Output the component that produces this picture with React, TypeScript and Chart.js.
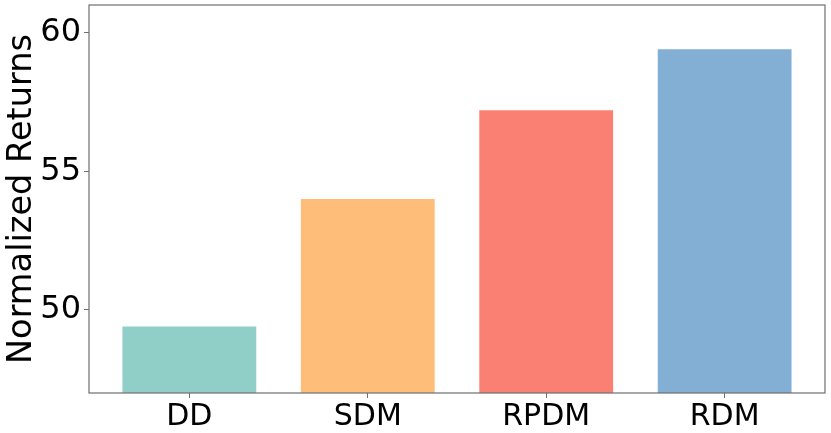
import React, { useEffect, useRef } from "react";
import { Chart, registerables } from "chart.js";

Chart.register(...registerables);

const categories: string[] = ["DD", "SDM", "RPDM", "RDM"];
const values: number[] = [49.4, 54.0, 57.2, 59.4];
const colors: string[] = ["#8fcfc8", "#febe7a", "#f98072", "#82afd3"];
const yTicks: number[] = [50, 55, 60];
const yMin = 47;
const yMax = 61;
const xMin = -0.5625;
const xMax = 3.5625;

const FONT = "'DejaVu Sans', sans-serif";

const framePlugin = {
  id: "frame",
  afterDatasetsDraw(chart: any) {
    const { ctx, chartArea } = chart;
    ctx.save();
    ctx.strokeStyle = "#6f6f6f";
    ctx.lineWidth = 1.2;
    ctx.strokeRect(chartArea.left, chartArea.top, chartArea.right - chartArea.left, chartArea.bottom - chartArea.top);
    ctx.restore();
  },
};

export default function App() {
  const ref = useRef<HTMLCanvasElement | null>(null);
  useEffect(() => {
    document.body.style.margin = "0";
    const canvas = ref.current;
    if (!canvas) return;
    const chart = new Chart(canvas, {
      type: "bar",
      data: {
        datasets: [
          {
            data: categories.map((_, i) => ({ x: i, y: values[i] })),
            backgroundColor: colors,
            borderWidth: 0,
            barPercentage: 0.75,
            categoryPercentage: 1,
          },
        ],
      },
      options: {
        animation: false,
        responsive: false,
        devicePixelRatio: 1,
        layout: { padding: { top: 5, right: 6, left: 0, bottom: 0 } },
        plugins: { legend: { display: false }, tooltip: { enabled: false } },
        scales: {
          x: {
            type: "linear",
            min: xMin,
            max: xMax,
            offset: false,
            afterBuildTicks: (s: any) => {
              s.ticks = categories.map((_, i) => ({ value: i }));
            },
            afterFit: (s: any) => {
              s.height = 40;
              s.paddingLeft = 0;
              s.paddingRight = 0;
            },
            ticks: {
              callback: (v: any) => categories[Math.round(Number(v))] ?? "",
              font: { family: FONT, size: 30 },
              color: "#000",
              padding: 1,
              maxRotation: 0,
              autoSkip: false,
            },
            grid: { offset: false, drawOnChartArea: false, drawTicks: true, tickLength: 5, color: "#6f6f6f", lineWidth: 1 },
            border: { display: false },
          },
          y: {
            min: yMin,
            max: yMax,
            afterBuildTicks: (s: any) => {
              s.ticks = yTicks.map((v) => ({ value: v }));
            },
            afterFit: (s: any) => {
              s.width = 89;
              s.paddingTop = 0;
              s.paddingBottom = 0;
            },
            ticks: {
              font: { family: FONT, size: 32 },
              color: "#000",
              padding: 3,
            },
            title: {
              display: true,
              text: "Normalized Returns",
              font: { family: FONT, size: 33.6 },
              color: "#000",
              padding: { top: 2, bottom: 0 },
            },
            grid: { drawOnChartArea: false, drawTicks: true, tickLength: 5, color: "#6f6f6f", lineWidth: 1 },
            border: { display: false },
          },
        },
      },
      plugins: [framePlugin],
    });
    return () => chart.destroy();
  }, []);
  return <canvas ref={ref} width={831} height={433} style={{ display: "block", width: 831, height: 433 }} />;
}
